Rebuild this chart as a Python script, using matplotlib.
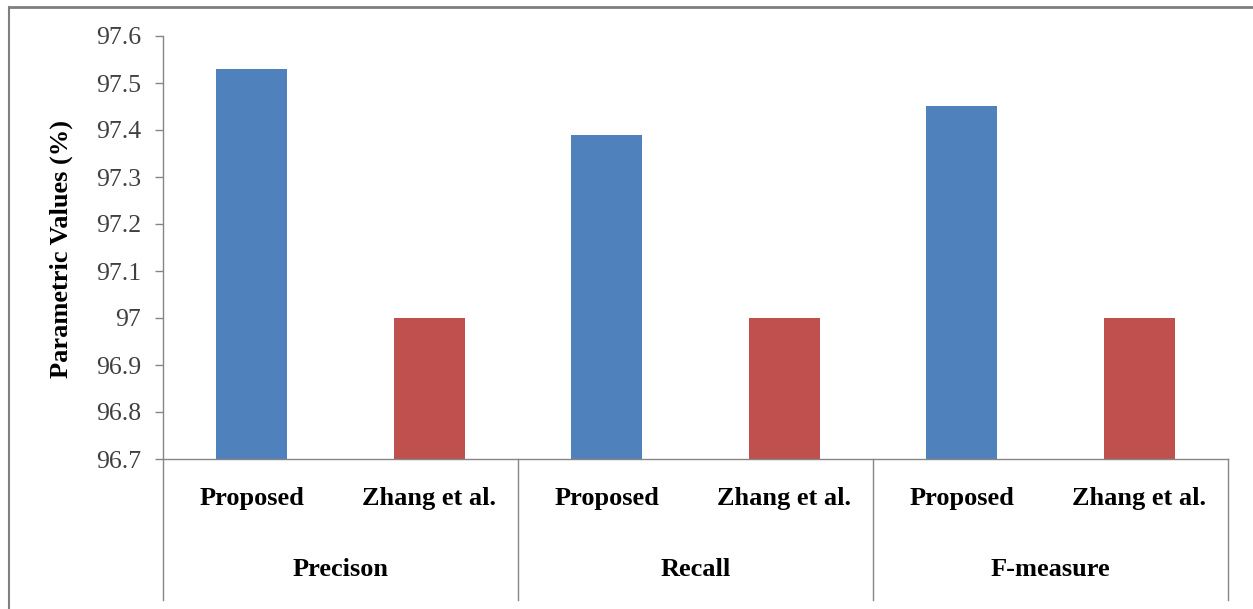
import numpy as np
import matplotlib
matplotlib.use("Agg")
import matplotlib.pyplot as plt
from matplotlib.lines import Line2D

# data
metrics = ["Precison", "Recall", "F-measure"]
methods = ["Proposed", "Zhang et al."]
proposed = [97.53, 97.39, 97.45]
zhang = [97.0, 97.0, 97.0]
yticks = [96.7, 96.8, 96.9, 97.0, 97.1, 97.2, 97.3, 97.4, 97.5, 97.6]
ytick_labels = ["96.7", "96.8", "96.9", "97", "97.1", "97.2", "97.3", "97.4", "97.5", "97.6"]

colors = ["#4F81BD", "#C0504D"]
axis_grey = "#868686"
serif = ["Liberation Serif", "DejaVu Serif"]

fig = plt.figure(figsize=(12.53, 6.09), dpi=100)
ax = fig.add_axes([163 / 1253, 1 - 459 / 609, (1228 - 163) / 1253, (459 - 36) / 609])

# frame around the chart area (only top and left visible in the reference)
fig.add_artist(Line2D([9 / 1253, 1], [1 - 7 / 609, 1 - 7 / 609], color="#7f7f7f", lw=2))
fig.add_artist(Line2D([9 / 1253, 9 / 1253], [0, 1 - 7 / 609], color="#7f7f7f", lw=1.5))

n = len(metrics)
width = 0.4
for i in range(n):
    for j, vals in enumerate([proposed, zhang]):
        x = 2 * i + j
        ax.bar(x, vals[i] - yticks[0], bottom=yticks[0], width=width,
               color=colors[j], edgecolor="none", zorder=2)

ax.set_xlim(-0.5, 2 * n - 0.5)
ax.set_ylim(yticks[0], yticks[-1])
ax.set_yticks(yticks)
ax.set_yticklabels(ytick_labels, family=serif, fontsize=18.5, color="#404040")
ax.tick_params(axis="y", length=6, width=1, color=axis_grey, pad=10)
ax.set_xticks([])

for side in ["top", "right"]:
    ax.spines[side].set_visible(False)
for side in ["left", "bottom"]:
    ax.spines[side].set_color(axis_grey)
    ax.spines[side].set_linewidth(1)

# two-level category labels
tr = ax.get_xaxis_transform()
sep_bottom = (459 - 600) / 423
for i in range(n):
    for j, m in enumerate(methods):
        ax.text(2 * i + j, (459 - 498) / 423, m, transform=tr, ha="center", va="center",
                family=serif, fontsize=19, fontweight="bold", color="black")
    ax.text(2 * i + 0.5, (459 - 570) / 423, metrics[i], transform=tr, ha="center", va="center",
            family=serif, fontsize=19, fontweight="bold", color="black")
for k in range(n + 1):
    ax.plot([2 * k - 0.5, 2 * k - 0.5], [0, sep_bottom], transform=tr, color=axis_grey,
            lw=1, clip_on=False)

fig.text(61 / 1253, 1 - 249 / 609, "Parametric Values (%)", rotation=90, ha="center", va="center",
         family=serif, fontsize=19, fontweight="bold", color="black")

fig.savefig("out.png", dpi=100)
